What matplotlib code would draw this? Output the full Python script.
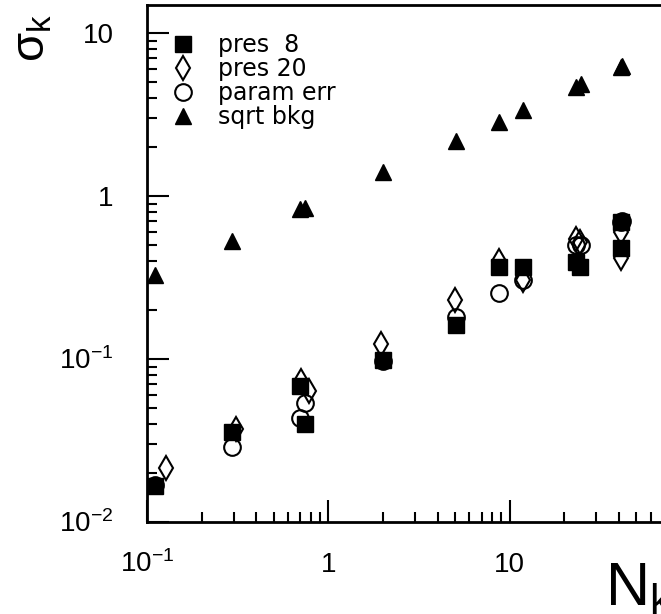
import numpy as np
import matplotlib.pyplot as plt
from matplotlib.ticker import NullFormatter, LogLocator
from matplotlib.transforms import ScaledTranslation

plt.rcParams['font.family'] = ['Liberation Sans', 'DejaVu Sans']
plt.rcParams['mathtext.default'] = 'regular'

# data
pres8_x = [0.111, 0.293, 0.70, 0.746, 1.99, 5.03, 8.7, 11.9, 23.2, 24.5, 41.0, 41.2]
pres8_y = [0.0166, 0.0357, 0.068, 0.040, 0.0986, 0.162, 0.366, 0.366, 0.394, 0.366, 0.69, 0.48]

pres20_x = [0.127, 0.31, 0.71, 0.785, 1.94, 5.0, 8.7, 11.9, 23.2, 24.3, 41.0, 41.2]
pres20_y = [0.0214, 0.0373, 0.0738, 0.0637, 0.1236, 0.230, 0.40, 0.305, 0.548, 0.52, 0.60, 0.42]

param_x = [0.111, 0.293, 0.70, 0.746, 1.99, 5.03, 8.7, 11.9, 23.2, 24.6, 41.0, 41.5]
param_y = [0.0168, 0.0288, 0.0435, 0.0537, 0.097, 0.181, 0.256, 0.305, 0.50, 0.50, 0.69, 0.70]

bkg_x = [0.111, 0.293, 0.70, 0.746, 1.99, 5.03, 8.7, 11.9, 23.2, 24.6, 41.0, 41.5]
bkg_y = [0.327, 0.528, 0.83, 0.85, 1.40, 2.17, 2.87, 3.37, 4.70, 4.85, 6.2, 6.3]

x_ticks = [0.1, 1, 10]
x_labels = [r'$10^{-1}$', '1', '10']
y_ticks = [0.01, 0.1, 1, 10]
y_labels = [r'$10^{-2}$', r'$10^{-1}$', '1', '10']

fig = plt.figure(figsize=(6.61, 6.14), dpi=100)
ax = fig.add_axes([147/661, 92/614, 544/661, 517/614])
ax.set_xscale('log')
ax.set_yscale('log')
ax.set_xlim(0.1, 100)
ax.set_ylim(0.01, 14.9)

ax.plot(pres8_x, pres8_y, ls='none', marker='s', ms=12, color='black', label='pres  8')
ax.plot(pres20_x, pres20_y, ls='none', marker='d', ms=12, mfc='none', mec='black',
        mew=1.5, label='pres 20')
ax.plot(param_x, param_y, ls='none', marker='o', ms=12, mfc='none', mec='black',
        mew=1.5, label='param err')
ax.plot(bkg_x, bkg_y, ls='none', marker='^', ms=12, color='black', label='sqrt bkg')

ax.legend(loc='upper left', bbox_to_anchor=(171/661, 1 - 33/614), bbox_transform=fig.transFigure,
          frameon=False, prop={'family': 'DejaVu Sans', 'size': 17}, handlelength=1.0,
          handletextpad=0.98, borderpad=0, borderaxespad=0, labelspacing=0.0, numpoints=1)

ax.xaxis.set_minor_locator(LogLocator(base=10, subs=np.arange(2, 10), numticks=20))
ax.yaxis.set_minor_locator(LogLocator(base=10, subs=np.arange(2, 10), numticks=20))
ax.xaxis.set_minor_formatter(NullFormatter())
ax.yaxis.set_minor_formatter(NullFormatter())
ax.set_xticks(x_ticks, labels=x_labels)
ax.set_yticks(y_ticks, labels=y_labels)

ax.tick_params(which='both', direction='in', top=False, right=False, width=1.5, labelsize=20)
ax.tick_params(which='major', length=16)
ax.tick_params(which='minor', length=7)
ax.tick_params(axis='x', pad=36)
ax.tick_params(axis='y', pad=24)

for lab in ax.get_xticklabels():
    lab.set_verticalalignment('baseline')
shift = ScaledTranslation(0, -0.10, fig.dpi_scale_trans)
for lab in ax.get_yticklabels():
    lab.set_verticalalignment('baseline')
    lab.set_transform(lab.get_transform() + shift)

for s in ['left', 'bottom', 'top']:
    ax.spines[s].set_linewidth(2)
ax.spines['right'].set_visible(False)

fig.text(605/661, 1 - 605/614, r'$N_k$', fontsize=44, ha='left', va='baseline')
fig.text(10/661, 1 - 62/614, r'$σ_k$', fontsize=34, rotation=90, ha='left', va='bottom')

fig.savefig('out.png', dpi=100)
